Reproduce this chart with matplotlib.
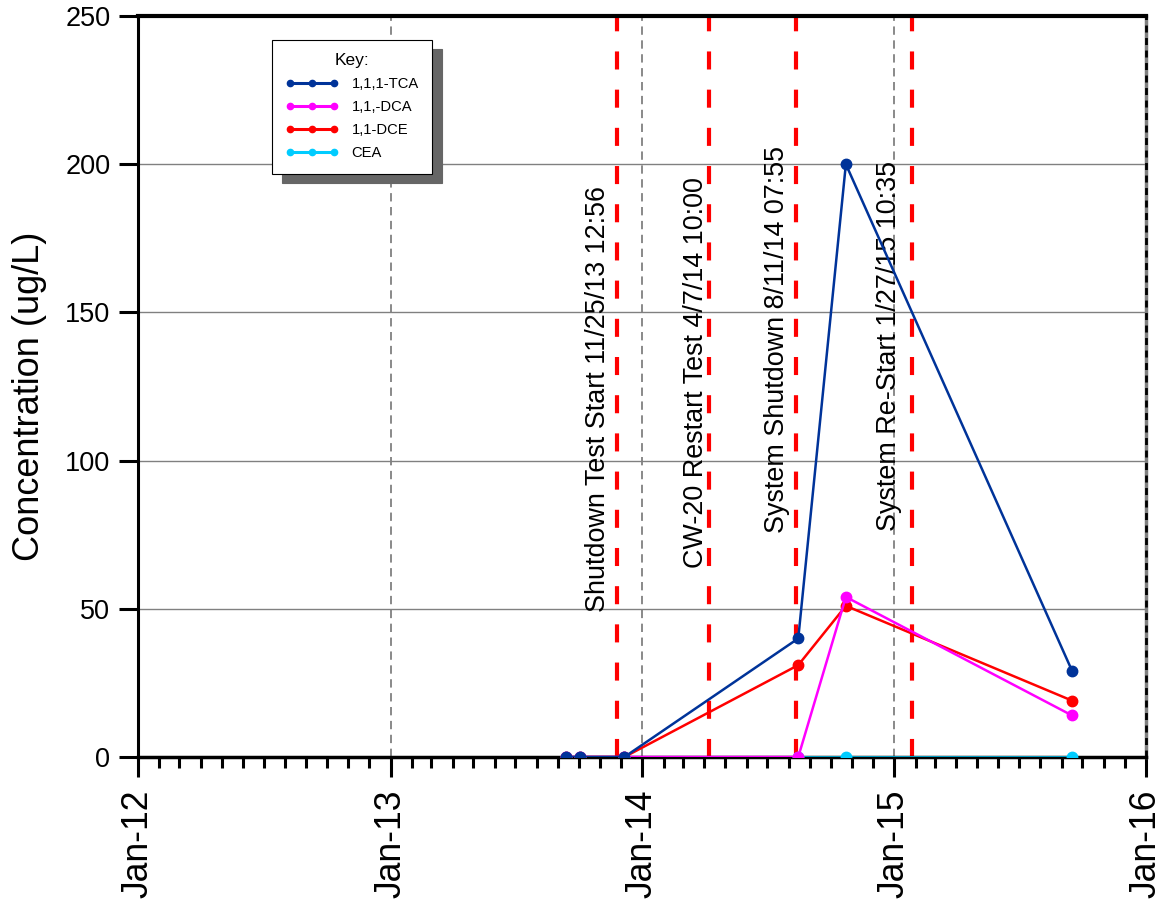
import datetime as dt
import matplotlib
matplotlib.use("Agg")
import matplotlib.pyplot as plt
import matplotlib.dates as mdates

plt.rcParams['font.family'] = ['Liberation Sans', 'DejaVu Sans']
plt.rcParams['lines.scale_dashes'] = False

# sample dates and concentrations (ug/L)
dates = [dt.date(2013, 9, 13), dt.date(2013, 10, 3), dt.date(2013, 12, 6),
         dt.date(2014, 8, 15), dt.date(2014, 10, 23), dt.date(2015, 9, 16)]
tca = [0, 0, 0, 40, 200, 29]
dca = [0, 0, 0, 0, 54, 14]
dce = [0, 0, 0, 31, 51, 19]
cea = [0, 0, 0, 0, 0, 0]

events = [dt.date(2013, 11, 25), dt.date(2014, 4, 7), dt.date(2014, 8, 11), dt.date(2015, 1, 27)]
event_labels = ["Shutdown Test Start 11/25/13 12:56", "CW-20 Restart Test 4/7/14 10:00",
                "System Shutdown 8/11/14 07:55", "System Re-Start 1/27/15 10:35"]
# label placement (top end of text in data units, x offset in points)
label_tops = [192.5, 195.5, 206, 201]
label_dx = [-13.7, -9.4, -13, -16.6]

fig = plt.figure(figsize=(11.62, 9.0), dpi=100)
ax = fig.add_axes([0.1188, 0.1589, 0.8674, 0.8233])

xmin, xmax = dt.date(2012, 1, 1), dt.date(2016, 1, 1)
ax.set_xlim(xmin, xmax)
ax.set_ylim(0, 250)

for y in [50, 100, 150, 200]:
    ax.axhline(y, color="#808080", lw=1.0, zorder=1)
for yr in [2013, 2014, 2015]:
    ax.axvline(dt.date(yr, 1, 1), color="#808080", lw=1.3, dashes=(6, 4), zorder=1)

for d, lab, top, dx in zip(events, event_labels, label_tops, label_dx):
    ax.axvline(d, color="#ff0000", lw=3, dashes=(13, 14.5), zorder=2)
    ax.annotate(lab, xy=(d, top), xytext=(dx, 0), textcoords="offset points",
                rotation=90, ha="center", va="top", fontsize=19.4)

ms, lw = 7.5, 1.8
ax.plot(dates, cea, "o-", color="#00ccff", ms=ms, lw=lw, label="CEA", zorder=3)
ax.plot(dates, dce, "o-", color="#ff0000", ms=ms, lw=lw, label="1,1-DCE", zorder=4)
ax.plot(dates, dca, "o-", color="#ff00ff", ms=ms, lw=lw, label="1,1,-DCA", zorder=5)
ax.plot(dates, tca, "o-", color="#003399", ms=ms, lw=lw, label="1,1,1-TCA", zorder=6)

ax.xaxis.set_major_locator(mdates.YearLocator())
ax.xaxis.set_major_formatter(mdates.DateFormatter("%b-%y"))
ax.xaxis.set_minor_locator(mdates.MonthLocator())
ax.tick_params(axis="x", which="major", direction="out", length=14.5, width=2.2,
               labelsize=25.6, labelrotation=90, pad=9)
ax.tick_params(axis="x", which="minor", direction="out", length=8, width=2.2)
ax.set_yticks([0, 50, 100, 150, 200, 250])
ax.tick_params(axis="y", direction="out", length=14, width=2.2, labelsize=19.5, pad=6)
ax.set_ylabel("Concentration (ug/L)", fontsize=26, labelpad=13)
ax.yaxis.label.set_y(0.4865)

ax.spines["left"].set_linewidth(2.2)
ax.spines["bottom"].set_linewidth(2.5)
ax.spines["top"].set_linewidth(3)
ax.spines["right"].set_color("#808080")
ax.spines["right"].set_linewidth(2.5)
ax.axvline(xmax, color="black", lw=2.0, dashes=(5, 4), zorder=7, clip_on=False)

h, l = ax.get_legend_handles_labels()
leg = ax.legend(h[::-1], l[::-1], title="Key:", loc="upper left", bbox_to_anchor=(0.133, 0.968),
                borderaxespad=0, fontsize=10.6, title_fontsize=12.5, numpoints=3, markerscale=0.6,
                handlelength=3.6, handletextpad=0.9, labelspacing=0.62, borderpad=0.9,
                fancybox=False, edgecolor="black", framealpha=1,
                shadow={"ox": 7, "oy": -7, "color": "#666666", "alpha": 1})
leg.get_frame().set_linewidth(0.8)
for line in leg.get_lines():
    line.set_linewidth(2.2)

fig.savefig("out.png", dpi=100)
